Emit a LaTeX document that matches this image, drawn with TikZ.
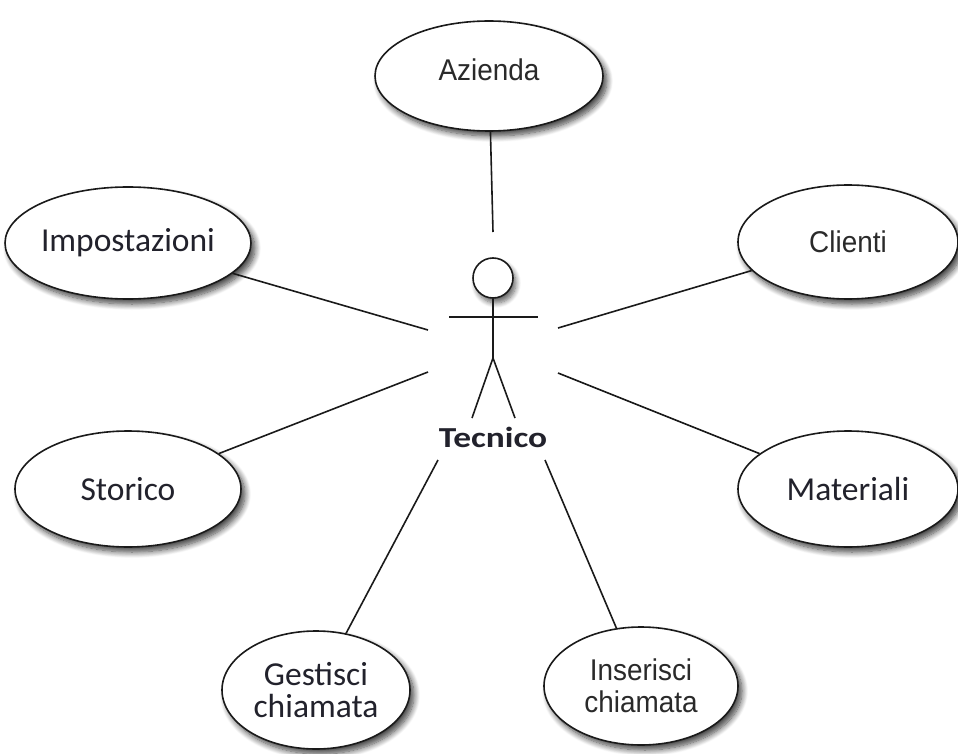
\documentclass[tikz,border=0pt]{standalone}
\usepackage{fontspec}
\setmainfont{Carlito}
\newfontfamily\arialfont[FakeStretch=0.93]{Liberation Sans}
\newfontfamily\widebold[FakeStretch=1.22]{Carlito}
\usetikzlibrary{shapes.geometric,shadows.blur}

\definecolor{inkline}{HTML}{1A1A1A}
\definecolor{inktext}{HTML}{22222C}
\definecolor{arialtext}{HTML}{2A2A2A}

\tikzset{
  usecase/.style={ellipse, draw=inkline, line width=1.6pt, fill=white,
    inner sep=0pt, align=center, text=inktext,
    blur shadow={shadow xshift=4pt, shadow yshift=-5pt,
      shadow opacity=75, shadow blur steps=10, shadow blur radius=6pt}},
  calfont/.style={font=\fontsize{33.5}{32}\selectfont},
  arfont/.style={font=\arialfont\fontsize{30}{32}\selectfont, text=arialtext},
  link/.style={draw=inkline, line width=1.6pt},
  stick/.style={draw=inkline, line width=1.6pt},
}

\begin{document}
\begin{tikzpicture}[x=1pt, y=-1pt]
  \path[use as bounding box] (0,0) rectangle (958,754);

  % use cases
  \node[usecase, arfont, minimum width=228pt, minimum height=110pt] (azienda) at (489,76) {\raisebox{12pt}{Azienda}};
  \node[usecase, calfont, minimum width=226pt, minimum height=112pt] (impost) at (128,243) {Impostazioni};
  \node[usecase, arfont, minimum width=220pt, minimum height=114pt] (clienti) at (848,242) {Clienti};
  \node[usecase, calfont, minimum width=226pt, minimum height=116pt] (storico) at (128,489) {Storico};
  \node[usecase, calfont, minimum width=220pt, minimum height=116pt] (materiali) at (848,489) {Materiali};
  \node[usecase, calfont, minimum width=188pt, minimum height=118pt] (gestisci) at (316,690) {Gestisci\\chiamata};
  \node[usecase, arfont, minimum width=194pt, minimum height=118pt] (inserisci) at (641,686) {Inserisci\\chiamata};

  % actor: Tecnico
  \node[circle, draw=inkline, line width=1.6pt, fill=white, minimum size=40pt, inner sep=0pt,
        blur shadow={shadow xshift=3pt, shadow yshift=-5pt, shadow opacity=60, shadow blur steps=8, shadow blur radius=5pt}]
        (head) at (493,278) {};
  \coordinate (hip) at (493,358);
  \coordinate (armL) at (449,317);
  \coordinate (armR) at (538,317);
  \coordinate (footL) at (472,418);
  \coordinate (footR) at (515,418);
  \draw[stick] (head.south) -- (hip);
  \draw[stick] (armL) -- (armR);
  \draw[stick] (footL) -- (hip) -- (footR);
  \node[font=\widebold\bfseries\fontsize{29}{30}\selectfont, text=inktext] (tecnico) at (493,437) {Tecnico};

  % free ends of the associations, around the actor
  \coordinate (eA) at (493,232);
  \coordinate (eI) at (428,330);
  \coordinate (eC) at (558,328);
  \coordinate (eS) at (428,372);
  \coordinate (eM) at (558,373);
  \coordinate (eG) at (438,460);
  \coordinate (eN) at (545,460);

  \draw[link] (azienda) -- (eA);
  \draw[link] (impost) -- (eI);
  \draw[link] (clienti) -- (eC);
  \draw[link] (storico) -- (eS);
  \draw[link] (materiali) -- (eM);
  \draw[link] (gestisci) -- (eG);
  \draw[link] (inserisci) -- (eN);
\end{tikzpicture}
\end{document}
